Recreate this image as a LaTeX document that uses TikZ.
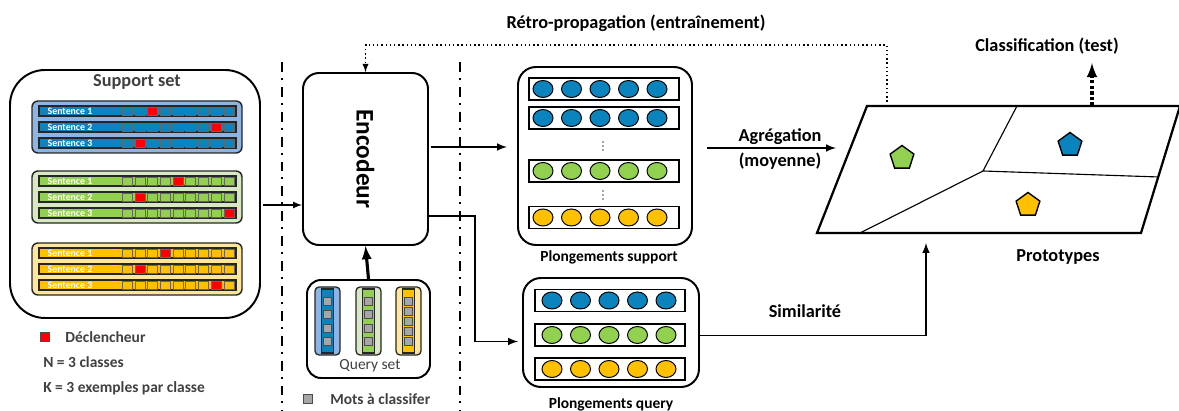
\documentclass[tikz,border=0pt]{standalone}
\usepackage{fontspec}
\setmainfont{Carlito}
\usetikzlibrary{calc,shapes.geometric}
\newlength\pxl
\setlength\pxl{0.025cm}
\definecolor{bluL}{HTML}{8DB4E2}
\definecolor{bluD}{HTML}{0B84BE}
\definecolor{grnL}{HTML}{D7E8C3}
\definecolor{grnD}{HTML}{92D050}
\definecolor{orgL}{HTML}{FFE699}
\definecolor{orgD}{HTML}{FFC000}
\definecolor{trig}{HTML}{FF0000}
\definecolor{txtG}{HTML}{404040}
\tikzset{
  bigbox/.style={draw, line width=1.4pt, inner sep=0pt},
  grpbox/.style={draw=black!85, line width=1pt, rounded corners=6\pxl, minimum width=210\pxl, minimum height=52\pxl, inner sep=0pt},
  sentrow/.style={draw=black!85, line width=0.9pt, minimum width=197\pxl, minimum height=10\pxl, inner sep=0pt},
  senttxt/.style={text=white, font=\bfseries\fontsize{7}{7}\selectfont, inner sep=0pt, anchor=west},
  tok/.style={draw=black!60, line width=0.5pt, minimum width=10\pxl, minimum height=8\pxl, inner sep=0pt},
  qtok/.style={draw=black!70, fill=black!35, line width=0.5pt, minimum size=8\pxl, inner sep=0pt},
  colbox/.style={draw=black!85, line width=0.9pt, inner sep=0pt},
  embrow/.style={draw, line width=0.9pt, minimum width=150\pxl, minimum height=22\pxl, inner sep=0pt},
  emb/.style={draw, ellipse, line width=0.7pt, minimum width=20\pxl, minimum height=17\pxl, inner sep=0pt},
  vdot/.style={circle, fill=black!70, minimum size=1.6\pxl, inner sep=0pt},
  proto/.style={draw, regular polygon, regular polygon sides=5, line width=1pt, minimum size=25\pxl, inner sep=0pt},
  bigtxt/.style={font=\bfseries\fontsize{13}{17.7}\selectfont, inner sep=0pt},
  captxt/.style={font=\bfseries\fontsize{11}{13}\selectfont, inner sep=0pt},
  legtxt/.style={text=txtG, font=\bfseries\fontsize{11}{13}\selectfont, anchor=west, inner sep=0pt},
  divider/.style={line width=1.6pt, dash pattern=on 7pt off 4.3pt on 1.4pt off 5pt},
}
\begin{document}
\begin{tikzpicture}[x=0.025cm, y=-0.025cm, >=latex]
\useasboundingbox (0,0) rectangle (1179,411);

\node[bigbox, rounded corners=35\pxl, minimum width=250\pxl, minimum height=248\pxl] (sup) at (135,194) {};
\node[bigtxt, text=txtG] (suptitle) at (137,82) {Support set};

\foreach \grp/\gy/\lc/\dc/\ta/\tb/\tc in {blu/127/bluL/bluD/2/7/1, grn/197/grnL/grnD/4/1/8, org/269/orgL/orgD/3/1/7} {
  \node[grpbox, fill=\lc] (\grp) at (137,\gy) {};
  \foreach \sn/\tp in {1/\ta, 2/\tb, 3/\tc} {
    \node[sentrow, fill=\dc] (\grp-\sn) at (137.5,{\gy+16*(\sn-2)}) {};
    \node[senttxt] at ($(\grp-\sn.west)+(9,0)$) {Sentence \sn};
    \foreach \i in {0,...,8} {
      \ifnum\i=\tp \def\tkc{trig}\else \def\tkc{\dc}\fi
      \node[tok, fill=\tkc] at ({127.3+12.7*\i},{\gy+16*(\sn-2)}) {};
    }
  }
}

\node[tok, fill=trig, draw=black!70, minimum size=9\pxl] (trigkey) at (45,337) {};
\node[legtxt] (trigtxt) at (65,337) {Déclencheur};
\node[legtxt] (nclass) at (43,362) {N = 3 classes};
\node[legtxt] (kshot) at (43,388) {K = 3 exemples par classe};

\draw[divider] (282,62) -- (282,411);
\draw[divider] (460,62) -- (460,411);

\node[bigbox, rounded corners=16\pxl, minimum width=125\pxl, minimum height=172\pxl] (enc) at (365.5,159) {};
\node[rotate=-90, font=\bfseries\fontsize{18}{20}\selectfont] (enctxt) at (enc.center) {Encodeur};

\node[bigbox, rounded corners=14\pxl, minimum width=123\pxl, minimum height=98\pxl] (qset) at (368.5,329) {};
\foreach \cn/\cx/\lc/\dc/\n in {qb/327.5/bluL/bluD/4, qg/368.5/grnL/grnD/4, qo/408.5/orgL/orgD/5} {
  \node[colbox, rounded corners=4\pxl, fill=\lc, minimum width=25\pxl, minimum height=68\pxl] (\cn) at (\cx,321) {};
  \node[colbox, fill=\dc, minimum width=12\pxl, minimum height=64\pxl] (\cn-in) at (\cx,321) {};
  \foreach \i in {1,...,\n} \node[qtok] at (\cx,{301+40.5*(\i-1)/(\n-1)}) {};
}
\node[font=\fontsize{11}{13}\selectfont, text=txtG, inner sep=0pt] (qtitle) at (370,366) {Query set};
\node[qtok, minimum size=9\pxl] (wordkey) at (308,399) {};
\node[legtxt] (wordtxt) at (330,399) {Mots à classifer};

\node[bigbox, rounded corners=18\pxl, minimum width=174\pxl, minimum height=178\pxl] (semb) at (605,156) {};
\foreach \rw/\ry/\cc in {1/89/bluD, 2/118/bluD, 3/171/grnD, 4/217.5/orgD} {
  \node[embrow] (semb-\rw) at (604,\ry) {};
  \foreach \i in {0,...,4} \node[emb, fill=\cc] at ({543+28.5*\i},\ry) {};
}
\foreach \dy in {142,146,150,191,195,199} \node[vdot] at (603,\dy) {};
\node[captxt] (semblbl) at (609,257) {Plongements support};

\node[bigbox, rounded corners=18\pxl, minimum width=176\pxl, minimum height=109\pxl] (qemb) at (611,332.5) {};
\foreach \rw/\ry/\cc in {1/300.5/bluD, 2/335/grnD, 3/369/orgD} {
  \node[embrow] (qemb-\rw) at (610,\ry) {};
  \foreach \i in {0,...,4} \node[emb, fill=\cc] at ({552+28.5*\i},\ry) {};
}
\node[captxt] (qemblbl) at (611,404) {Plongements query};

\coordinate (pl-tl) at (867,106);
\coordinate (pl-tr) at (1180,106);
\coordinate (pl-br) at (1141,233);
\coordinate (pl-bl) at (817,233);
\coordinate (pl-mid) at (983,171);
\draw[line width=1.6pt] (pl-tl) -- (pl-tr) -- (pl-br) -- (pl-bl) -- cycle;
\draw[line width=0.8pt] (1017,106) -- (pl-mid) -- (1159,177);
\draw[line width=0.8pt] (pl-mid) -- (860,233);
\node[proto, fill=grnD] (pgrn) at (902,158) {};
\node[proto, fill=bluD] (pblu) at (1070,145) {};
\node[proto, fill=orgD] (porg) at (1028,205) {};
\node[bigtxt] (protolbl) at (1058,257) {Prototypes};
\node[bigtxt] (clslbl) at (1047,46) {Classification (test)};

\coordinate (supout) at ($(sup.east)+(2,11)$);
\path[draw, line width=1.2pt, ->] (supout) -- (supout -| enc.west);
\coordinate (encup) at ($(enc.east)+(2,-12)$);
\path[draw, line width=1.4pt, ->, shorten >=10\pxl] (encup) -- (encup -| semb.west);
\coordinate (encdn) at ($(enc.east)+(0,57)$);
\coordinate (qin) at ($(qemb.west)+(-4,9)$);
\path[draw, line width=1.4pt, ->] (encdn) -- ++(46,0) |- (qin);
\path[draw, line width=2.2pt, ->] (qset.north) -- (enc.south);

\coordinate (bpout) at (887,106);
\coordinate (bptop) at (887,45);
\path[draw, dotted, line width=1pt, ->] (bpout) -- (bptop) -| (enc.north);
\node[bigtxt] (bplbl) at (636,23) {Rétro-propagation (entraînement)};

\coordinate (agin) at (707,148);
\coordinate (agout) at (836,148);
\path[draw, line width=1.4pt, ->] (agin) -- (agout);
\node[bigtxt, align=center] (aglbl) at (780,149) {Agrégation\\(moyenne)};

\coordinate (simin) at ($(qemb.east)+(0,3)$);
\coordinate (simout) at (926,243);
\path[draw, line width=1.4pt, ->] (simin) -| (simout);
\node[bigtxt] (simlbl) at (805,311) {Similarité};

\coordinate (clsout) at (1092,106);
\path[draw, line width=2.4pt, dash pattern=on 2.5pt off 1.5pt, ->] (clsout) -- ++(0,-43);
\end{tikzpicture}
\end{document}
